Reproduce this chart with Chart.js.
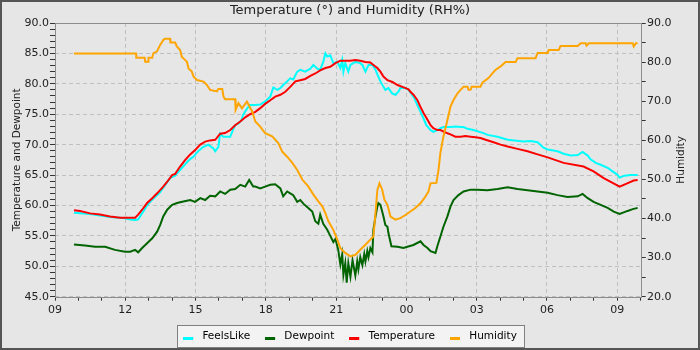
<!DOCTYPE html>
<html>
<head>
<meta charset="utf-8">
<title>Temperature and Humidity</title>
<script src="https://cdn.jsdelivr.net/npm/chart.js@4/dist/chart.umd.min.js"></script>
<style>
  html, body { margin: 0; padding: 0; background: #e6e6e6; }
  canvas { display: block; }
</style>
</head>
<body>
<canvas id="chart" width="700" height="350"></canvas>
<script>
// times are hours after 09:00 on the first day
const feelsTime = [0.81,1.50,2.35,2.99,3.21,3.42,3.55,3.63,3.93,4.06,4.49,4.91,5.13,5.21,5.47,5.73,5.90,6.11,6.32,6.54,6.75,6.84,6.97,7.05,7.18,7.48,7.56,7.69,7.83,7.97,8.03,8.21,8.33,8.55,8.76,8.97,9.19,9.32,9.49,9.62,9.74,9.91,10.04,10.17,10.34,10.47,10.68,10.90,11.03,11.20,11.32,11.45,11.54,11.62,11.75,11.88,12.05,12.18,12.26,12.31,12.39,12.52,12.61,12.82,13.03,13.12,13.25,13.38,13.55,13.68,13.80,13.89,14.02,14.10,14.23,14.40,14.53,14.66,14.74,14.96,15.09,15.21,15.34,15.47,15.60,15.73,15.85,16.03,16.15,16.32,16.45,16.58,16.88,17.09,17.31,17.44,17.61,17.86,18.29,18.46,18.89,19.32,20.00,20.30,20.60,20.85,21.03,21.45,21.71,22.01,22.31,22.52,22.74,22.86,23.08,23.29,23.59,23.80,24.02,24.10,24.32,24.57,24.87];
const feelsLike = [58.8,58.6,58.1,57.9,57.7,57.6,57.7,58.2,60.0,60.6,62.2,64.5,64.9,65.3,66.4,67.5,68.0,68.9,69.6,70.0,69.4,68.9,69.6,71.8,71.3,71.3,72.1,73.2,73.5,74.1,74.9,76.0,76.5,76.5,76.6,77.1,77.9,79.4,79.0,79.3,79.8,80.4,80.9,80.7,82.0,82.3,82.0,82.5,83.1,82.5,82.3,83.6,85.0,84.5,84.7,83.4,83.6,82.6,83.9,82.0,83.4,82.0,83.1,83.6,83.4,83.1,82.0,83.1,83.1,82.3,81.2,80.4,79.5,79.0,79.3,78.4,78.2,78.7,79.3,79.3,79.0,78.4,77.6,76.5,75.4,74.3,73.2,72.4,72.1,72.4,72.7,72.9,72.9,73.0,72.9,72.9,72.6,72.4,71.9,71.6,71.3,70.8,70.5,70.6,70.4,69.5,69.2,68.9,68.5,68.2,68.3,68.8,68.2,67.6,67.0,66.7,66.2,65.6,65.0,64.6,64.9,65.0,65.0];

const dewTime = [0.81,1.28,1.71,2.14,2.56,2.99,3.21,3.42,3.55,3.72,3.93,4.15,4.36,4.49,4.62,4.79,5.00,5.21,5.43,5.77,5.98,6.20,6.41,6.62,6.84,7.05,7.26,7.48,7.69,7.91,8.12,8.29,8.46,8.55,8.76,8.97,9.19,9.40,9.62,9.74,9.91,10.04,10.17,10.34,10.47,10.60,10.81,10.98,11.11,11.24,11.32,11.45,11.62,11.75,11.88,11.97,12.09,12.18,12.26,12.31,12.39,12.45,12.52,12.61,12.70,12.82,12.90,12.95,13.03,13.12,13.20,13.25,13.33,13.38,13.46,13.55,13.59,13.68,13.76,13.80,13.89,14.02,14.10,14.19,14.23,14.36,14.62,14.87,15.04,15.30,15.60,15.73,15.90,16.03,16.24,16.32,16.45,16.58,16.75,16.88,17.01,17.22,17.44,17.74,18.03,18.46,18.89,19.32,19.74,20.17,20.60,21.03,21.45,21.88,22.31,22.52,22.74,22.99,23.29,23.59,23.85,24.10,24.44,24.66,24.87];
const dewpoint = [53.6,53.4,53.2,53.2,52.7,52.4,52.4,52.7,52.3,53.0,53.8,54.6,55.7,56.8,58.2,59.3,60.1,60.4,60.6,60.9,60.6,61.2,60.9,61.6,61.5,62.3,61.9,62.6,62.7,63.4,63.1,64.2,63.1,63.1,62.8,63.1,63.4,63.5,62.8,61.5,62.3,62.0,61.7,60.6,60.9,60.3,59.6,59.0,57.4,57.0,58.5,57.0,56.0,55.0,54.0,54.5,52.7,50.3,52.0,48.6,50.5,47.3,50.5,48.3,51.0,48.5,50.8,49.5,51.5,50.2,52.0,50.8,52.5,51.5,53.0,52.3,56.0,58.2,59.8,60.4,60.1,58.2,56.8,56.5,55.5,53.3,53.2,53.0,53.2,53.5,54.1,53.5,53.0,52.5,52.2,53.3,54.9,56.5,58.2,59.8,60.9,61.7,62.3,62.6,62.6,62.5,62.7,63.0,62.7,62.5,62.3,62.1,61.7,61.4,61.5,61.9,61.2,60.6,60.1,59.6,59.0,58.6,59.1,59.4,59.6];

const tempTime = [0.81,1.07,1.50,1.92,2.35,2.78,3.42,3.55,3.72,3.93,4.15,4.36,4.62,4.79,5.00,5.13,5.34,5.56,5.77,5.98,6.20,6.41,6.62,6.84,7.05,7.26,7.48,7.69,7.91,8.12,8.33,8.55,8.76,8.97,9.19,9.40,9.62,9.83,10.04,10.26,10.47,10.68,10.90,11.11,11.32,11.54,11.75,11.97,12.18,12.39,12.61,12.82,13.03,13.25,13.46,13.59,13.76,13.89,14.02,14.19,14.40,14.62,14.83,14.96,15.09,15.17,15.30,15.47,15.60,15.73,15.90,16.03,16.15,16.32,16.45,16.67,16.88,17.09,17.31,17.52,17.74,17.95,18.16,18.38,18.72,19.02,19.32,19.74,20.17,20.60,21.03,21.71,22.56,22.99,23.42,23.80,24.10,24.40,24.70,24.87];
const temperature = [59.2,59.1,58.7,58.5,58.2,58.0,58.0,58.5,59.3,60.4,61.2,62.0,63.1,63.9,65.0,65.2,66.4,67.5,68.4,69.1,70.0,70.5,70.7,70.8,71.8,71.9,72.4,73.2,73.8,74.5,75.0,75.4,76.0,76.7,77.3,77.9,78.2,78.7,79.5,80.4,80.6,80.8,81.3,81.7,82.2,82.6,82.8,83.4,83.8,83.8,83.8,83.9,83.8,83.6,83.5,83.1,82.6,82.0,81.2,80.6,80.3,79.8,79.5,79.3,79.1,78.7,78.2,77.3,76.2,75.2,74.1,73.2,72.7,72.4,72.4,72.0,71.7,71.3,71.3,71.4,71.3,71.2,71.1,70.8,70.4,70.0,69.7,69.3,68.9,68.4,67.9,67.0,66.4,65.6,64.5,63.7,63.1,63.6,64.1,64.2];

const humTime = [0.81,3.46,3.47,3.83,3.85,3.97,3.99,4.15,4.20,4.35,4.49,4.63,4.70,4.91,4.93,5.13,5.20,5.34,5.41,5.56,5.63,5.70,5.84,5.91,6.06,6.34,6.48,6.62,6.91,6.97,7.14,7.19,7.26,7.69,7.71,7.83,7.98,8.19,8.42,8.55,8.76,8.97,9.27,9.53,9.70,9.91,10.13,10.34,10.56,10.81,11.03,11.24,11.41,11.54,11.67,11.88,12.05,12.18,12.39,12.61,12.82,13.03,13.25,13.46,13.59,13.68,13.76,13.85,13.97,14.06,14.19,14.32,14.53,14.74,14.96,15.17,15.38,15.60,15.81,15.94,16.03,16.28,16.37,16.45,16.58,16.75,16.88,17.01,17.18,17.31,17.44,17.61,17.65,17.74,17.78,18.16,18.25,18.50,18.68,18.80,19.02,19.23,19.66,19.74,20.51,20.60,21.03,21.07,21.50,21.58,22.31,22.44,22.65,22.69,22.78,24.66,24.70,24.79,24.87];
const humidity = [82.2,82.2,81.1,81.1,80.1,80.1,81.1,81.1,82.3,82.7,84.4,85.7,86.0,86.0,85.0,85.0,84.0,83.1,81.4,80.5,80.1,78.4,77.6,76.3,75.4,75.0,74.2,72.9,72.5,73.1,73.1,71.2,70.5,70.5,67.8,69.5,68.2,69.9,67.3,64.8,63.5,61.8,61.0,59.3,57.1,55.8,54.2,52.4,49.9,48.2,46.1,44.4,43.1,41.4,39.3,37.1,34.6,32.4,31.2,30.3,30.7,32.0,33.3,34.6,35.4,41.4,47.3,49.0,47.3,44.8,43.5,40.5,39.7,40.1,40.9,41.8,42.7,43.9,45.6,46.9,49.0,49.1,52.4,56.8,61.0,65.2,68.6,70.3,72.0,72.9,73.7,73.7,72.9,72.9,73.7,73.7,74.8,75.9,77.2,78.0,78.9,80.0,80.0,81.0,81.0,82.3,82.3,83.1,83.1,84.1,84.1,84.8,84.8,84.2,84.8,84.8,84.0,84.8,84.8];

const seriesNames = ['FeelsLike', 'Dewpoint', 'Temperature', 'Humidity'];
const seriesColors = ['#00ffff', '#006400', '#ff0000', '#ffa500'];

const FONT = "'DejaVu Sans'";
const GRID = '#c0c0c0';
const NONE = 'rgba(0,0,0,0)';

Chart.defaults.font.family = FONT;
Chart.defaults.color = '#222';

const pts = (t, v) => t.map((x, i) => ({ x, y: v[i] }));

// little line marker for the legend, sits low like in the original
function swatch(color) {
    const c = document.createElement('canvas');
    c.width = 14;
    c.height = 13;
    const g = c.getContext('2d');
    g.fillStyle = color;
    g.fillRect(0, 7, 10, 3);
    return c;
}

const decor = {
    id: 'decor',
    beforeDraw(chart) {
        const { ctx, width, height, legend } = chart;
        ctx.save();
        ctx.fillStyle = '#e6e6e6';
        ctx.fillRect(0, 0, width, height);
        const hb = legend && legend.legendHitBoxes;
        if (hb && hb.length) {
            const first = hb[0], last = hb[hb.length - 1];
            const l = Math.round(first.left - 6) + 0.5;
            const r = Math.round(last.left + last.width + 7) + 0.5;
            const t = Math.round(first.top - 6.25) + 0.5;
            const b = Math.round(first.top + 15.75) + 0.5;
            ctx.fillStyle = '#f3f3f3';
            ctx.fillRect(l, t, r - l, b - t);
            ctx.strokeStyle = '#808080';
            ctx.lineWidth = 1;
            ctx.strokeRect(l, t, r - l, b - t);
        }
        ctx.restore();
    },
    beforeDatasetsDraw(chart) {
        const { ctx, chartArea: a } = chart;
        ctx.save();
        ctx.strokeStyle = '#8c8c8c';
        ctx.lineWidth = 1;
        ctx.strokeRect(Math.round(a.left) + 0.5, Math.round(a.top) + 0.5, Math.round(a.right - a.left), Math.round(a.bottom - a.top));
        ctx.restore();
    },
    afterDraw(chart) {
        const { ctx, width, height, chartArea: a } = chart;
        const s = chart.scales.y1;
        ctx.save();
        ctx.translate(s.right - 18.3, (a.top + a.bottom) / 2);
        ctx.rotate(-Math.PI / 2);
        ctx.font = '10.5px ' + FONT;
        ctx.fillStyle = '#222';
        ctx.textAlign = 'center';
        ctx.textBaseline = 'middle';
        ctx.fillText('Humidity', 0, 0);
        ctx.restore();

        ctx.save();
        ctx.strokeStyle = '#555';
        ctx.lineWidth = 2;
        ctx.strokeRect(1, 1, width - 2, height - 2);
        ctx.restore();
    }
};

new Chart(document.getElementById('chart'), {
    type: 'line',
    data: {
        datasets: [
            { label: seriesNames[0], data: pts(feelsTime, feelsLike), borderColor: seriesColors[0], backgroundColor: seriesColors[0], yAxisID: 'y', order: 3 },
            { label: seriesNames[1], data: pts(dewTime, dewpoint), borderColor: seriesColors[1], backgroundColor: seriesColors[1], yAxisID: 'y', order: 2 },
            { label: seriesNames[2], data: pts(tempTime, temperature), borderColor: seriesColors[2], backgroundColor: seriesColors[2], yAxisID: 'y', order: 1 },
            { label: seriesNames[3], data: pts(humTime, humidity), borderColor: seriesColors[3], backgroundColor: seriesColors[3], yAxisID: 'y1', order: 0 }
        ]
    },
    options: {
        responsive: false,
        animation: false,
        devicePixelRatio: 1,
        events: [],
        layout: { padding: { top: 0, left: 0, right: 0, bottom: -1.75 } },
        elements: {
            line: { borderWidth: 2, tension: 0 },
            point: { radius: 0 }
        },
        scales: {
            x: {
                type: 'linear',
                min: 0,
                max: 25,
                ticks: {
                    stepSize: 1,
                    autoSkip: false,
                    maxRotation: 0,
                    padding: 2.4,
                    font: { size: 11 },
                    callback: v => v % 3 === 0 ? String((9 + v) % 24).padStart(2, '0') : ''
                },
                grid: {
                    color: c => c.tick && c.tick.value % 3 === 0 ? GRID : NONE,
                    tickColor: '#333',
                    tickLength: 4
                },
                border: { display: false, dash: [4, 3] },
                afterFit: s => { s.height = 19.55; }
            },
            y: {
                position: 'left',
                min: 45,
                max: 90,
                ticks: {
                    stepSize: 1,
                    autoSkip: false,
                    padding: 1,
                    font: { size: 11 },
                    callback: v => v % 5 === 0 ? v.toFixed(1) : ''
                },
                grid: {
                    color: c => c.tick && c.tick.value % 5 === 0 ? GRID : NONE,
                    tickColor: '#333',
                    tickLength: 5
                },
                border: { display: false, dash: [4, 3] },
                title: {
                    display: true,
                    text: 'Temperature and Dewpoint',
                    font: { size: 10.5 },
                    padding: { top: 10.7, bottom: 0 }
                },
                afterFit: s => { s.width = 55; }
            },
            y1: {
                position: 'right',
                min: 20,
                max: 90,
                ticks: {
                    stepSize: 5,
                    autoSkip: false,
                    padding: 1.3,
                    font: { size: 11 },
                    callback: v => v % 10 === 0 ? v.toFixed(1) : ''
                },
                grid: { drawOnChartArea: false, tickColor: '#333', tickLength: 5 },
                border: { display: false },
                afterFit: s => { s.width = 59.3; }
            }
        },
        plugins: {
            title: {
                display: true,
                text: 'Temperature (°) and Humidity (RH%)',
                font: { size: 13, weight: 'normal' },
                color: '#222',
                padding: { top: 2.5, bottom: 4.9 }
            },
            legend: {
                position: 'bottom',
                labels: {
                    usePointStyle: true,
                    pointStyleWidth: 14,
                    padding: 15,
                    color: '#222',
                    font: { size: 10.5 },
                    generateLabels: chart => chart.data.datasets.map((ds, i) => ({
                        text: ds.label,
                        datasetIndex: i,
                        pointStyle: swatch(ds.borderColor),
                        fillStyle: ds.borderColor,
                        strokeStyle: ds.borderColor,
                        lineWidth: 0,
                        hidden: false
                    }))
                }
            },
            tooltip: { enabled: false }
        }
    },
    plugins: [decor]
});
</script>
</body>
</html>
